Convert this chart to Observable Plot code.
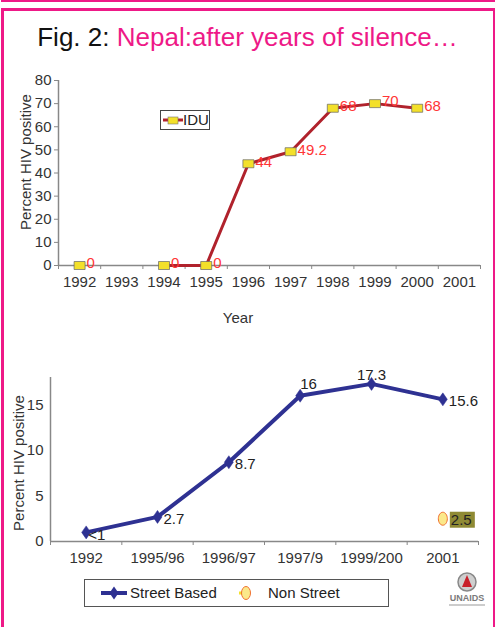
<!DOCTYPE html>
<html><head><meta charset="utf-8">
<script src="https://cdn.jsdelivr.net/npm/d3@7"></script>
<script src="https://cdn.jsdelivr.net/npm/@observablehq/plot@0.6"></script>
<style>
body{margin:0;background:#fff;font-family:"Liberation Sans",Arial,sans-serif;}
#page{position:relative;width:495px;height:627px;overflow:hidden;background:#fff;}
.abs{position:absolute;}
.pink{background:#ee1987;}
.ylab{position:absolute;font-size:15px;color:#333;white-space:nowrap;transform:translate(-50%,-50%) rotate(-90deg);}
.lg{position:absolute;font-size:15px;color:#222;white-space:nowrap;}
</style></head><body>
<div id="page">
  <div class="abs pink" style="left:1px;top:0;width:494px;height:2px"></div>
  <div class="abs pink" style="left:1px;top:8px;width:494px;height:2.5px"></div>
  <div class="abs pink" style="left:1px;top:8px;width:3px;height:619px"></div>
  <div class="abs pink" style="left:493px;top:8px;width:2px;height:619px"></div>
  <div id="title" class="abs" style="left:0;width:495px;top:22px;text-align:center;font-size:26px;line-height:30px;color:#111;white-space:nowrap"><span>Fig. 2: </span><span style="color:#ee1987">Nepal:after years of silence…</span></div>
  <div id="top" class="abs" style="left:0;top:60px"></div>
  <div id="bottom" class="abs" style="left:0;top:360px"></div>
  <div class="ylab" style="left:25px;top:162px">Percent HIV positive</div>
  <div class="ylab" style="left:18px;top:463px">Percent HIV positive</div>
  <div class="lg" style="left:238px;top:317px;transform:translate(-50%,-50%);color:#333">Year</div>
  <div class="abs" style="left:160px;top:110px;width:48px;height:18px;border:1px solid #444;background:#fff">
    <svg class="abs" style="left:0;top:0" width="24" height="18"><line x1="2" x2="22" y1="9" y2="9" stroke="#b0222c" stroke-width="3"/><rect x="7" y="6" width="10" height="7" fill="#f3e02a" stroke="#777" stroke-width="0.6"/></svg>
    <div class="lg" style="left:22px;top:0;line-height:18px">IDU</div>
  </div>
  <div class="abs" style="left:84px;top:579px;width:303px;height:26px;border:1px solid #555;background:#fff">
    <svg class="abs" style="left:0;top:0" width="180" height="26">
      <line x1="16" x2="42" y1="13" y2="13" stroke="#2e3192" stroke-width="4"/>
      <path d="M29,6.5L33.5,13L29,19.5L24.5,13Z" fill="#2e3192"/>
      <line x1="154" x2="168" y1="13" y2="13" stroke="#f3e02a" stroke-width="3" stroke-dasharray="3,4"/>
      <ellipse cx="161" cy="13" rx="4.5" ry="6.5" fill="#fbe88a" stroke="#f07030" stroke-width="1"/>
    </svg>
    <div class="lg" style="left:45px;top:0;line-height:26px">Street Based</div>
    <div class="lg" style="left:183px;top:0;line-height:26px">Non Street</div>
  </div>
  <svg class="abs" style="left:443px;top:568px" width="50" height="45">
    <circle cx="24" cy="14" r="9" fill="#cfcfcf" stroke="#888" stroke-width="1.5"/>
    <path d="M24,7L29,19L19,19Z" fill="#c8202a"/>
    <text x="24" y="33" text-anchor="middle" font-size="9" font-weight="bold" fill="#7a7a7a" font-family="Liberation Sans">UNAIDS</text>
    <rect x="6" y="36" width="36" height="2" fill="#ccc"/>
  </svg>
</div>
<script>
// ---- Data: top chart (IDU) ----
const axisYears = [1992, 1993, 1994, 1995, 1996, 1997, 1998, 1999, 2000, 2001];
const iduYears  = [1992, 1993, 1994, 1995, 1996, 1997, 1998, 1999, 2000];
const iduValues = [0, null, 0, 0, 44, 49.2, 68, 70, 68];
const yTicksTop = [0, 10, 20, 30, 40, 50, 60, 70, 80];

// ---- Data: bottom chart (sex workers) ----
const swCategories   = ["1992", "1995/96", "1996/97", "1997/9", "1999/200", "2001"];
const streetValues   = [1, 2.7, 8.7, 16, 17.3, 15.6];
const streetLabels   = ["<1", "2.7", "8.7", "16", "17.3", "15.6"];
const nonStreetCats  = ["2001"];
const nonStreetValues = [2.5];
const yTicksBottom = [0, 5, 10, 15];

const idu = iduYears.map((y, i) => ({year: y, value: iduValues[i]}));
const street = swCategories.map((c, i) => ({i, cat: c, value: streetValues[i], label: streetLabels[i]}));
const nonStreet = nonStreetCats.map((c, i) => ({i: swCategories.indexOf(c), value: nonStreetValues[i], label: String(nonStreetValues[i])}));

const rectSym = {draw(ctx) { ctx.rect(-5.5, -4, 11, 8); }};
const diamondSym = {draw(ctx) { ctx.moveTo(0, -6.5); ctx.lineTo(4.5, 0); ctx.lineTo(0, 6.5); ctx.lineTo(-4.5, 0); ctx.closePath(); }};
const ellipseSym = {draw(ctx) {
  const rx = 4.5, ry = 6.5, k = 0.5523;
  ctx.moveTo(0, -ry);
  ctx.bezierCurveTo(k * rx, -ry, rx, -k * ry, rx, 0);
  ctx.bezierCurveTo(rx, k * ry, k * rx, ry, 0, ry);
  ctx.bezierCurveTo(-k * rx, ry, -rx, k * ry, -rx, 0);
  ctx.bezierCurveTo(-rx, -k * ry, -k * rx, -ry, 0, -ry);
  ctx.closePath();
}};
const bgSym = {draw(ctx) { ctx.rect(-12.5, -8, 25, 16); }};

const font = "'Liberation Sans', Arial, sans-serif";
const topEdges = [...axisYears.map(y => y - 0.5), d3.max(axisYears) + 0.5];
const xTopDomain = [topEdges[0], topEdges[topEdges.length - 1]];

const topPlot = Plot.plot({
  width: 495, height: 280,
  marginTop: 20, marginBottom: 75, marginLeft: 58, marginRight: 15,
  style: {fontFamily: font, fontSize: "15px", color: "#333", background: "transparent", overflow: "visible"},
  x: {type: "linear", domain: xTopDomain},
  y: {domain: [0, 80]},
  marks: [
    Plot.axisY({ticks: yTicksTop, tickSize: 4, tickPadding: 3, label: null, stroke: "#888"}),
    Plot.axisX({ticks: axisYears, tickSize: 0, tickPadding: 11, tickFormat: d => String(d), label: null}),
    Plot.axisX({ticks: topEdges, tickSize: 4, tickFormat: () => "", label: null, stroke: "#888"}),
    Plot.ruleY([0], {stroke: "#888", strokeWidth: 1.5}),
    Plot.ruleX([xTopDomain[0]], {stroke: "#888", strokeWidth: 1.5}),
    Plot.line(idu, {x: "year", y: "value", stroke: "#b0222c", strokeWidth: 3}),
    Plot.dot(idu, {x: "year", y: "value", symbol: rectSym, fill: "#f3e02a", stroke: "#666", strokeWidth: 0.7}),
    Plot.text(idu.filter(d => d.value != null), {x: "year", y: "value", text: d => String(d.value), dx: 7, dy: -2, textAnchor: "start", fill: "#ff3535"})
  ]
});
document.getElementById("top").appendChild(topPlot);

const swEdges = d3.range(-0.5, swCategories.length, 1);
const rightLabels = street.filter(d => ["1995/96", "1996/97", "2001"].includes(d.cat));
const bottomPlot = Plot.plot({
  width: 495, height: 215,
  marginTop: 17, marginBottom: 34, marginLeft: 50, marginRight: 17,
  style: {fontFamily: font, fontSize: "15px", color: "#333", background: "transparent", overflow: "visible"},
  x: {type: "linear", domain: [-0.5, swCategories.length - 0.5]},
  y: {domain: [0, 18]},
  marks: [
    Plot.axisY({ticks: yTicksBottom, tickSize: 0, tickPadding: 7, label: null}),
    Plot.axisX({ticks: d3.range(swCategories.length), tickSize: 0, tickPadding: 11, tickFormat: i => swCategories[i], label: null}),
    Plot.axisX({ticks: swEdges, tickSize: 4, tickFormat: () => "", label: null, stroke: "#888"}),
    Plot.ruleY([0], {stroke: "#888", strokeWidth: 1.5}),
    Plot.ruleX([-0.5], {stroke: "#888", strokeWidth: 1.5}),
    Plot.line(street, {x: "i", y: "value", stroke: "#2e3192", strokeWidth: 4}),
    Plot.dot(street, {x: "i", y: "value", symbol: diamondSym, fill: "#2e3192", stroke: "#2e3192", strokeWidth: 0.5}),
    Plot.text(rightLabels, {x: "i", y: "value", text: "label", dx: 6, dy: 2, textAnchor: "start", fill: "#222"}),
    Plot.text(street.filter(d => d.cat === "1992"), {x: "i", y: "value", text: "label", dx: 2, dy: 3, textAnchor: "start", fill: "#222"}),
    Plot.text(street.filter(d => d.cat === "1997/9"), {x: "i", y: "value", text: "label", dx: 0, dy: -12, textAnchor: "start", fill: "#222"}),
    Plot.text(street.filter(d => d.cat === "1999/200"), {x: "i", y: "value", text: "label", dx: 0, dy: -9, textAnchor: "middle", fill: "#222"}),
    Plot.dot(nonStreet, {x: "i", y: "value", symbol: bgSym, dx: 19.5, dy: 1, fill: "#8f8a34", stroke: "none"}),
    Plot.dot(nonStreet, {x: "i", y: "value", symbol: ellipseSym, fill: "#fbe88a", stroke: "#f07030", strokeWidth: 1}),
    Plot.text(nonStreet, {x: "i", y: "value", text: "label", dx: 8, dy: 1, textAnchor: "start", fill: "#222"})
  ]
});
document.getElementById("bottom").appendChild(bottomPlot);
</script>
</body></html>
